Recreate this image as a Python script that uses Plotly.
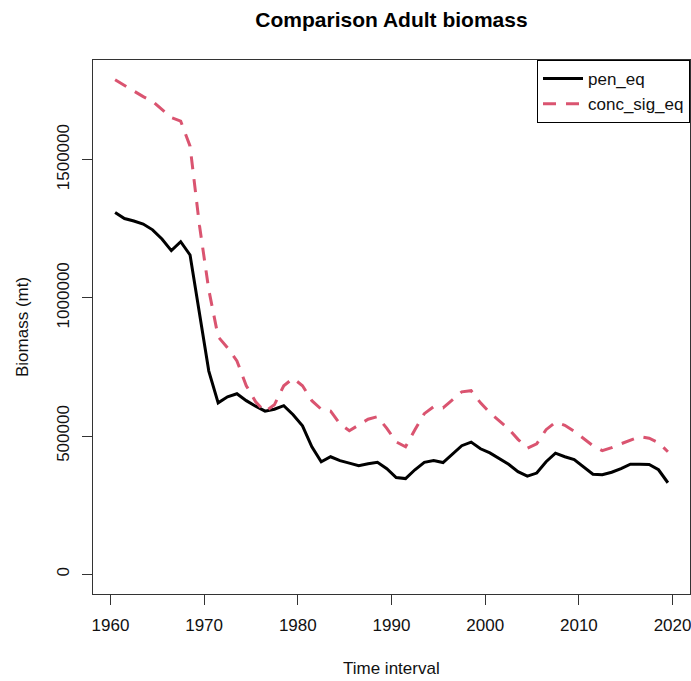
import plotly.graph_objects as go

# Time axis: mid-year positions 1960.5 ... 2019.5
years = [1960.5 + i for i in range(60)]

# Adult biomass (mt), penalised-equilibrium run
pen_eq = [
    1309000, 1287000, 1278000, 1267000, 1246000, 1213000, 1171000, 1203000, 1155000, 944000,
    735000, 620000, 642000, 653000, 628000, 608000, 590000, 597000, 610000, 577000,
    537000, 461000, 407000, 425000, 411000, 402000, 393000, 400000, 405000, 382000,
    350000, 346000, 378000, 405000, 411000, 404000, 436000, 465000, 478000, 454000,
    439000, 420000, 398000, 371000, 355000, 366000, 407000, 438000, 425000, 415000,
    390000, 362000, 360000, 369000, 382000, 398000, 398000, 397000, 378000, 331000,
]

# Adult biomass (mt), concentrated-sigma equilibrium run
conc_sig_eq = [
    1789000, 1769000, 1746000, 1728000, 1711000, 1681000, 1652000, 1639000, 1549000, 1263000,
    1029000, 859000, 819000, 772000, 682000, 624000, 588000, 613000, 682000, 709000,
    682000, 628000, 597000, 590000, 544000, 519000, 541000, 561000, 570000, 528000,
    479000, 461000, 523000, 581000, 606000, 602000, 631000, 660000, 664000, 620000,
    584000, 555000, 526000, 488000, 456000, 472000, 523000, 550000, 539000, 517000,
    492000, 465000, 447000, 458000, 472000, 485000, 498000, 492000, 476000, 443000,
]

x_ticks = [1960, 1970, 1980, 1990, 2000, 2010, 2020]
y_ticks = [0, 500000, 1000000, 1500000]

FONT = "Liberation Sans, Arial, sans-serif"
AXIS_COLOR = "#333333"

fig = go.Figure()
fig.add_trace(go.Scatter(
    x=years, y=pen_eq, mode="lines", name="pen_eq",
    line=dict(color="black", width=3),
))
fig.add_trace(go.Scatter(
    x=years, y=conc_sig_eq, mode="lines", name="conc_sig_eq",
    line=dict(color="#DA5470", width=3, dash="13px,10px"),
))

axis_common = dict(
    showgrid=False, zeroline=False,
    showline=True, mirror=True, linecolor=AXIS_COLOR, linewidth=1,
    ticks="outside", ticklen=10, tickwidth=1, tickcolor=AXIS_COLOR,
    tickfont=dict(family=FONT, size=17, color="#111111"),
    ticklabeloverflow="allow",
)

fig.update_xaxes(
    range=[1958.14, 2021.86], tickvals=x_ticks,
    ticktext=[str(v) for v in x_ticks], ticklabelstandoff=6,
    **axis_common,
)
fig.update_yaxes(
    range=[-71500, 1860500], tickvals=y_ticks,
    ticktext=[str(v) for v in y_ticks], tickangle=-90, ticklabelstandoff=6,
    **axis_common,
)

fig.update_layout(
    width=691, height=681,
    margin=dict(l=93, r=1, t=60, b=87),
    paper_bgcolor="white", plot_bgcolor="white",
    font=dict(family=FONT, size=17, color="#111111"),
    title=dict(
        text="<b>Comparison Adult biomass</b>",
        x=0.5, xref="paper", xanchor="center",
        y=1 - 20 / 681, yref="container", yanchor="middle",
        font=dict(family=FONT, size=21, color="black"),
    ),
    showlegend=True,
    legend=dict(
        x=1, y=1, xanchor="right", yanchor="top",
        bgcolor="white", bordercolor="black", borderwidth=1,
        font=dict(family=FONT, size=17, color="#111111"),
        tracegroupgap=0, itemwidth=40,
    ),
    annotations=[
        dict(text="Time interval", xref="paper", yref="paper", x=0.5, y=0,
             yshift=-74, xanchor="center", yanchor="middle", showarrow=False,
             font=dict(family=FONT, size=17, color="#111111")),
        dict(text="Biomass (mt)", xref="paper", yref="paper", x=0, y=0.5,
             xshift=-71, xanchor="center", yanchor="middle", textangle=-90,
             showarrow=False, font=dict(family=FONT, size=17, color="#111111")),
    ],
)

fig.write_html("out.html")
